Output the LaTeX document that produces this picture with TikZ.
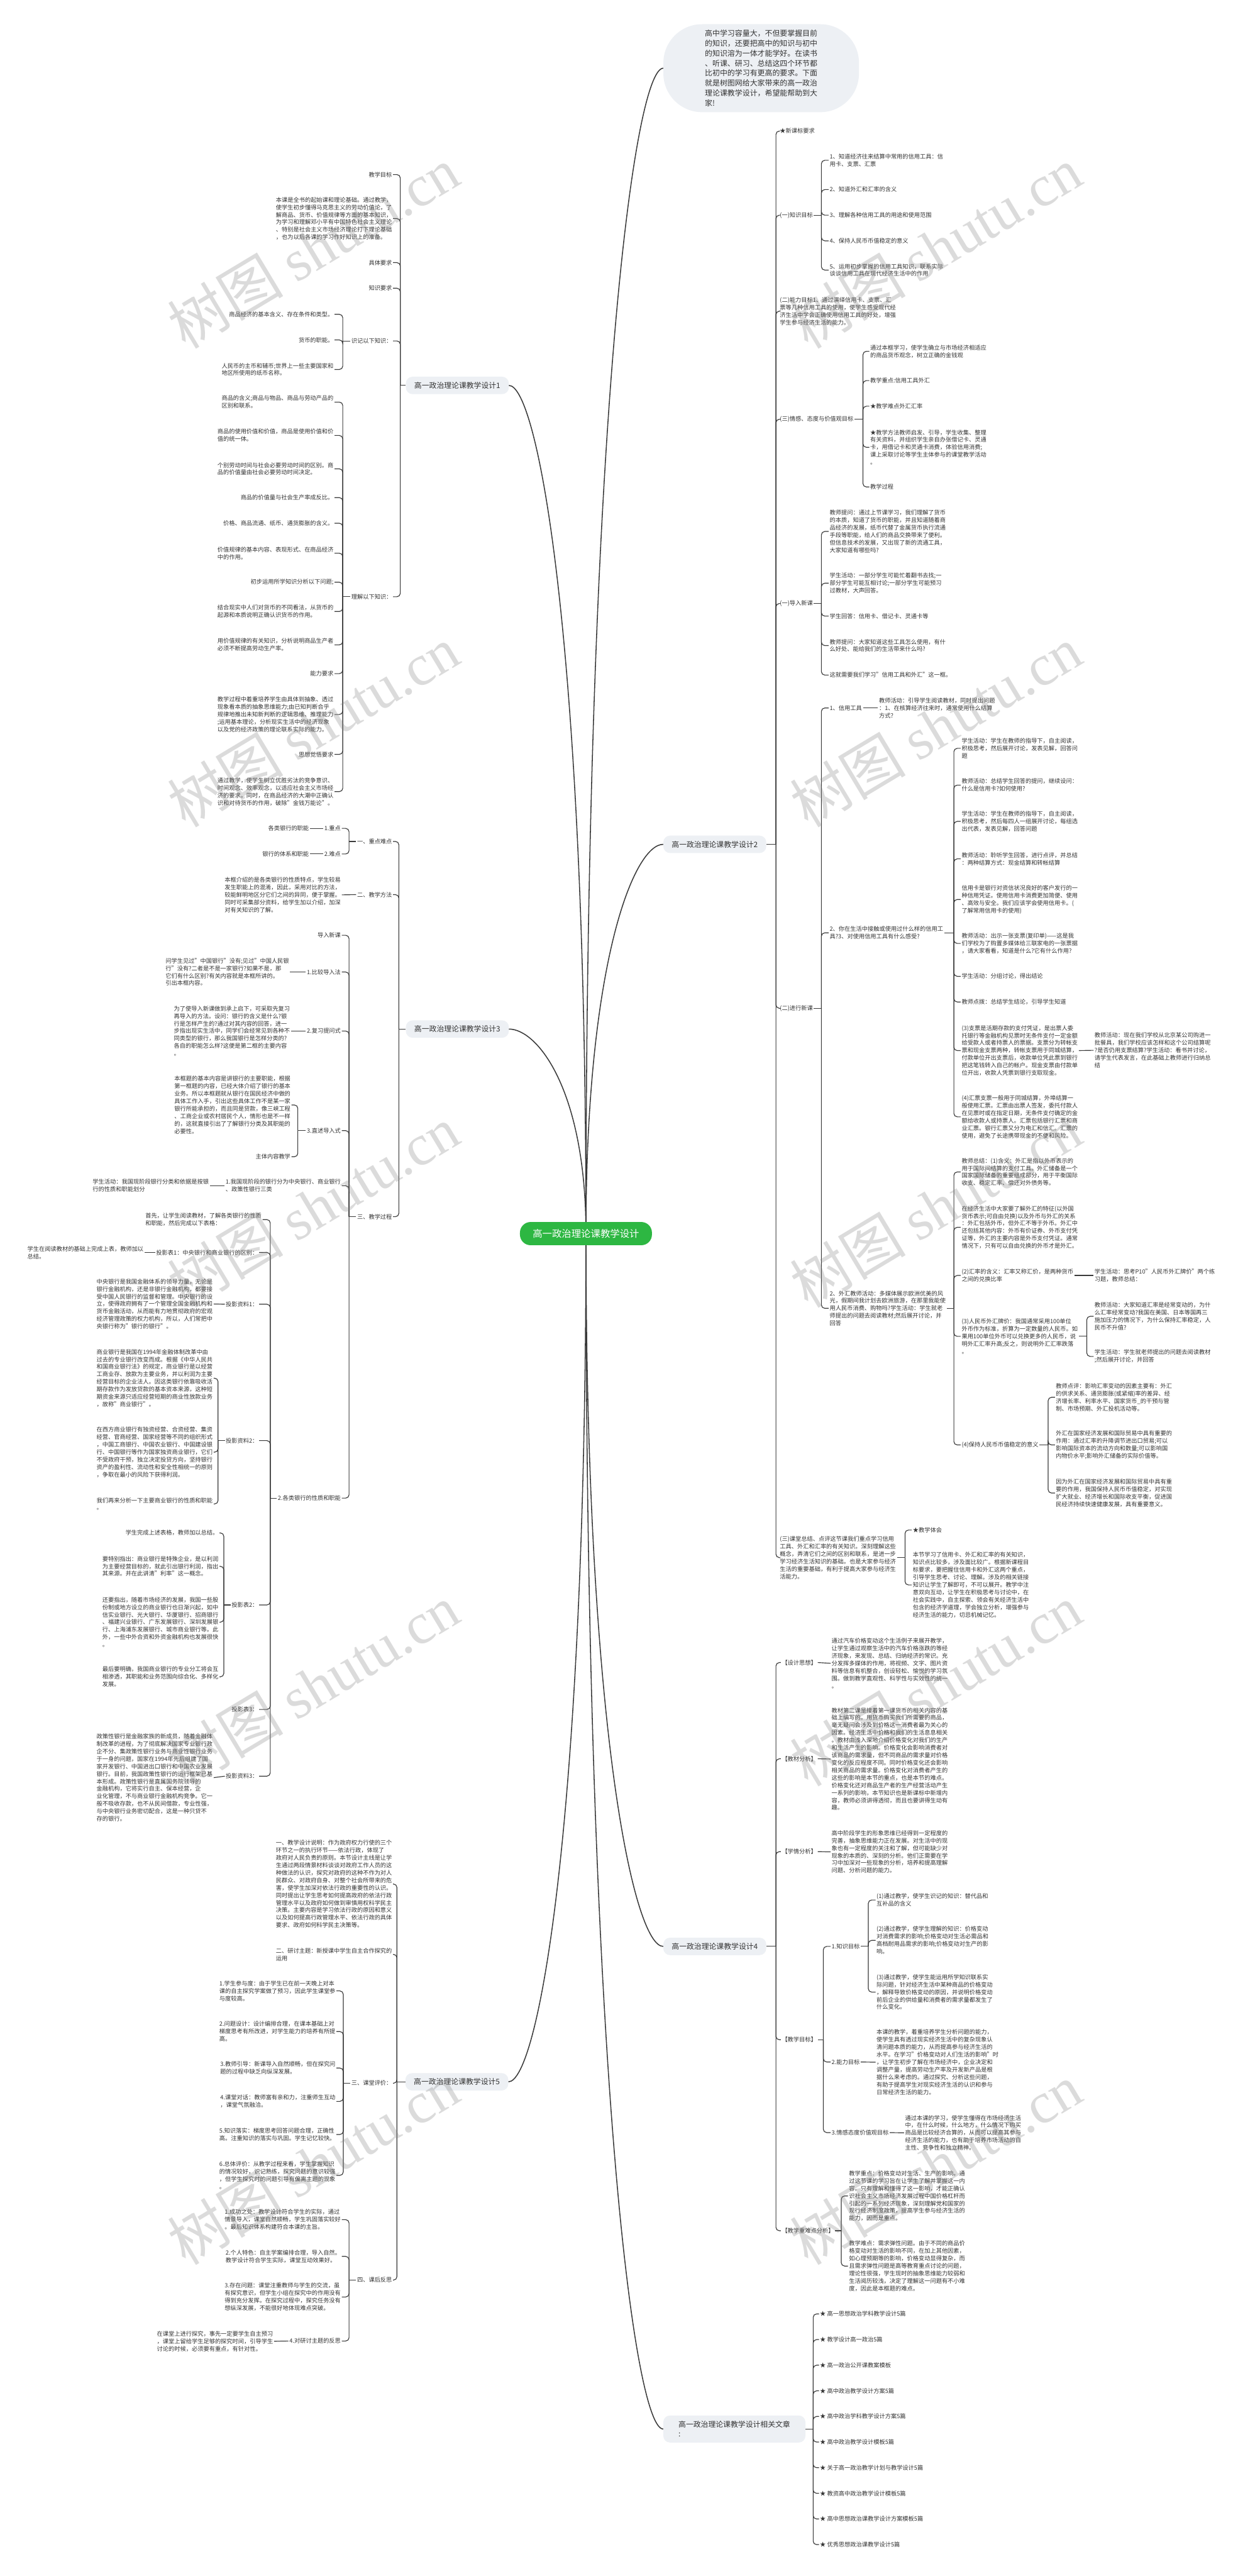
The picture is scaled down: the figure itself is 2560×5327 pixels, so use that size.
\documentclass[tikz,border=0pt]{standalone}
\usepackage{fontspec}
\setmainfont{Noto Sans CJK SC}
\newfontfamily\wmlatin{Liberation Serif}
\definecolor{linec}{HTML}{3A3A3A}
\definecolor{txt}{HTML}{333333}
\definecolor{boxc}{HTML}{EDF0F4}
\definecolor{rootc}{HTML}{2DB742}
\newcommand{\leaffont}{\fontsize{12}{15.5}\selectfont}
\newcommand{\brfont}{\fontsize{15.4}{19}\selectfont}
\newcommand{\introfont}{\fontsize{15.5}{20.5}\selectfont}
\newcommand{\rootfont}{\fontsize{20}{24}\selectfont}
\newcommand{\wmfont}{\fontsize{120}{130}\selectfont}
\begin{document}
\begin{tikzpicture}[x=1pt,y=-1pt,
  conn/.style={draw=linec, line width=1.5pt, rounded corners=7pt},
  bconn/.style={draw=linec, line width=2pt},
  leaf/.style={font=\leaffont, text=txt, inner sep=2pt, align=left},
  leafR/.style={leaf, anchor=west},
  leafL/.style={leaf, anchor=east},
  brbox/.style={fill=boxc, rounded corners=14pt, font=\brfont, text=txt, minimum height=36pt, minimum width=213pt, inner xsep=8pt},
  rootbox/.style={fill=rootc, text=white, rounded corners=22pt, minimum width=273pt, minimum height=48pt, font=\rootfont},
  introbox/.style={fill=boxc, rounded corners=80pt, inner xsep=86pt, inner ysep=12pt, align=left, font=\introfont, text=txt},
  wm/.style={rotate=31, text=gray, text opacity=0.28, font=\wmfont}
]
\useasboundingbox (0,0) rectangle (2560,5327);
\fill[white] (0,0) rectangle (2560,5327);

% ---------------- branch boxes ----------------
\node[introbox, anchor=west] (intro) at (1372,141) {高中学习容量大，不但要掌握目前\\的知识，还要把高中的知识与初中\\的知识溶为一体才能学好。在读书\\、听课、研习、总结这四个环节都\\比初中的学习有更高的要求。下面\\就是树图网给大家带来的高一政治\\理论课教学设计，希望能帮助到大\\家!};
\node[brbox] (b1) at (946,797) {高一政治理论课教学设计1};
\node[brbox] (b2) at (1478.5,1746) {高一政治理论课教学设计2};
\node[brbox] (b3) at (946,2128) {高一政治理论课教学设计3};
\node[brbox] (b4) at (1478.5,4025) {高一政治理论课教学设计4};
\node[brbox] (b5) at (945,4305) {高一政治理论课教学设计5};
\node[brbox, minimum width=294pt, minimum height=56pt, align=left, inner xsep=28pt] (b6) at (1519,5023) {高一政治理论课教学设计相关文章\\:};

% ---------------- root connectors ----------------
\coordinate (rc) at (1212,2551);
\draw[bconn] (rc) .. controls (1212,864) and (1312,141) .. (intro.west);
\draw[bconn] (rc) .. controls (1212,1323) and (1112,797) .. (b1.east);
\draw[bconn] (rc) .. controls (1212,1987) and (1312,1746) .. (b2.west);
\draw[bconn] (rc) .. controls (1212,2255) and (1112,2128) .. (b3.east);
\draw[bconn] (rc) .. controls (1212,3583) and (1312,4025) .. (b4.west);
\draw[bconn] (rc) .. controls (1212,3779) and (1112,4305) .. (b5.east);
\draw[bconn] (rc) .. controls (1212,4281) and (1312,5023) .. (b6.west);
\node[rootbox] (root) at (rc) {高一政治理论课教学设计};

% ================= BRANCH 1 =================
\coordinate (J1) at (828,797);
\draw[conn] (b1.west) -- (J1);
\node[leafL] (c1a) at (813,361) {教学目标};
\node[leafL] (c1b) at (813,452) {本课是全书的起始课和理论基础。通过教学，\\使学生初步懂得马克思主义的劳动价值论，了\\解商品、货币、价值规律等方面的基本知识，\\为学习和理解邓小平有中国特色社会主义理论\\、特别是社会主义市场经济理论打下理论基础\\，也为以后各课的学习作好知识上的准备。};
\node[leafL] (c1c) at (813,543) {具体要求};
\node[leafL] (c1d) at (813,596) {知识要求};
\node[leafL] (c1e) at (813,705) {识记以下知识：};
\node[leafL] (c1f) at (813,1234) {理解以下知识：};
\foreach \n in {c1a,c1b,c1c,c1d,c1e,c1f} \draw[conn] (J1) |- (\n.east);
\coordinate (J1e) at (709,705);
\draw[conn] (c1e.west) -- (J1e);
\node[leafL] (c1e1) at (692,650) {商品经济的基本含义、存在条件和类型。};
\node[leafL] (c1e2) at (692,703) {货币的职能。};
\node[leafL] (c1e3) at (692,764) {人民币的主币和辅币;世界上一些主要国家和\\地区所使用的纸币名称。};
\foreach \n in {c1e1,c1e2,c1e3} \draw[conn] (J1e) |- (\n.east);
\coordinate (J1f) at (709,1234);
\draw[conn] (c1f.west) -- (J1f);
\node[leafL] (f01) at (692,831.5) {商品的含义;商品与物品、商品与劳动产品的\\区别和联系。};
\node[leafL] (f02) at (692,900.5) {商品的使用价值和价值，商品是使用价值和价\\值的统一体。};
\node[leafL] (f03) at (692,969.5) {个别劳动时间与社会必要劳动时间的区别。商\\品的价值量由社会必要劳动时间决定。};
\node[leafL] (f04) at (692,1029) {商品的价值量与社会生产率成反比。};
\node[leafL] (f05) at (692,1082) {价格、商品流通、纸币、通货膨胀的含义。};
\node[leafL] (f06) at (692,1144) {价值规律的基本内容、表现形式、在商品经济\\中的作用。};
\node[leafL] (f07) at (692,1204) {初步运用所学知识分析以下问题;};
\node[leafL] (f08) at (692,1264.5) {结合现实中人们对货币的不同看法，从货币的\\起源和本质说明正确认识货币的作用。};
\node[leafL] (f09) at (692,1333.5) {用价值规律的有关知识，分析说明商品生产者\\必须不断提高劳动生产率。};
\node[leafL] (f10) at (692,1393) {能力要求};
\node[leafL] (f11) at (692,1477.5) {教学过程中着重培养学生由具体到抽象、透过\\现象看本质的抽象思维能力;由已知判断合乎\\规律地推出未知新判断的逻辑思维、推理能力\\;运用基本理论，分析现实生活中的经济现象\\以及党的经济政策的理论联系实际的能力。};
\node[leafL] (f12) at (692,1560) {思想觉悟要求};
\node[leafL] (f13) at (692,1637) {通过教学，使学生树立优胜劣汰的竞争意识、\\时间观念、效率观念，以适应社会主义市场经\\济的要求。同时，在商品经济的大潮中正确认\\识和对待货币的作用，破除"金钱万能论"。};
\foreach \n in {f01,f02,f03,f04,f05,f06,f07,f08,f09,f10,f11,f12,f13} \draw[conn] (J1f) |- (\n.east);

% ================= BRANCH 3 =================
\coordinate (J3) at (825,2128);
\draw[conn] (b3.west) -- (J3);
\node[leafL] (c3a) at (813,1740) {一、重点难点};
\node[leafL] (c3b) at (813,1850) {二、教学方法};
\node[leafL] (c3c) at (813,2516) {三、教学过程};
\foreach \n in {c3a,c3b,c3c} \draw[conn] (J3) |- (\n.east);
\coordinate (J3a) at (722,1740);
\draw[conn] (c3a.west) -- (J3a);
\node[leafL] (c3a1) at (707,1713) {1.重点};
\node[leafL] (c3a2) at (707,1766) {2.难点};
\foreach \n in {c3a1,c3a2} \draw[conn] (J3a) |- (\n.east);
\node[leafL] (c3a1c) at (641,1713) {各类银行的职能};
\node[leafL] (c3a2c) at (641,1766) {银行的体系和职能};
\draw[conn] (c3a1.west) -- (c3a1c.east);
\draw[conn] (c3a2.west) -- (c3a2c.east);
\node[leafL] (c3bc) at (707,1850.5) {本框介绍的是各类银行的性质特点，学生较易\\发生职能上的混淆，因此，采用对比的方法，\\较能鲜明地区分它们之间的异同，便于掌握。\\同时可采集部分资料，给学生加以介绍，加深\\对有关知识的了解。};
\draw[conn] (c3b.west) -- (c3bc.east);
\coordinate (J3c) at (722,2516);
\draw[conn] (c3c.west) -- (J3c);
\node[leafL] (s1) at (707,1934) {导入新课};
\node[leafL] (s2) at (707,2010) {1.比较导入法};
\node[leafL] (s3) at (707,2132) {2.复习提问式};
\node[leafL] (s4) at (707,2338) {3.直述导入式};
\node[leafL] (s5) at (707,2452) {1.我国现阶段的银行分为中央银行、商业银行\\、政策性银行三类};
\node[leafL] (s6) at (707,3098) {2.各类银行的性质和职能};
\foreach \n in {s1,s2,s3,s4,s5,s6} \draw[conn] (J3c) |- (\n.east);
\node[leafL] (s2c) at (600,2010) {问学生见过"中国银行"没有;见过"中国人民银\\行"没有?二者是不是一家银行?如果不是，那\\它们有什么区别?有关内容就是本框所讲的。\\引出本框内容。};
\draw[conn] (s2.west) -- (s2c.east);
\node[leafL] (s3c) at (602,2132) {为了使导入新课做到承上启下，可采取先复习\\再导入的方法。设问：银行的含义是什么?银\\行是怎样产生的?通过对其内容的回答，进一\\步指出现实生活中，同学们会经常见到各种不\\同类型的银行，那么我国银行是怎样分类的?\\各自的职能怎么样?这便是第二框的主要内容\\。};
\draw[conn] (s3.west) -- (s3c.east);
\coordinate (J3s4) at (616,2338);
\draw[conn] (s4.west) -- (J3s4);
\node[leafL] (s4a) at (603,2285) {本框题的基本内容是讲银行的主要职能，根据\\第一框题的内容，已经大体介绍了银行的基本\\业务。所以本框题就从银行在国民经济中做的\\具体工作入手，引出这些具体工作不是某一家\\银行所能承担的，而且同是贷款，像三峡工程\\、工商企业或农村居民个人，情形也是不一样\\的，这就直接引出了了解银行分类及其职能的\\必要性。};
\node[leafL] (s4b) at (603,2392) {主体内容教学};
\foreach \n in {s4a,s4b} \draw[conn] (J3s4) |- (\n.east);
\node[leafL] (s5c) at (434,2452) {学生活动：我国现阶段银行分类和依据是按银\\行的性质和职能划分};
\draw[conn] (s5.west) -- (s5c.east);
\coordinate (J3s6) at (559,3098);
\draw[conn] (s6.west) -- (J3s6);
\node[leafL] (u1) at (543,2522) {首先，让学生阅读教材，了解各类银行的性质\\和职能，然后完成以下表格：};
\node[leafL] (u2) at (536,2590) {投影表1：中央银行和商业银行的区别：};
\node[leafL] (u3) at (536,2697) {投影资料1：};
\node[leafL] (u4) at (536,2979) {投影资料2：};
\node[leafL] (u5) at (536,3319) {投影表2：};
\node[leafL] (u6) at (536,3535) {投影表3：};
\node[leafL] (u7) at (536,3673) {投影资料3：};
\foreach \n in {u1,u2,u3,u4,u5,u6,u7} \draw[conn] (J3s6) |- (\n.east);
\node[leafL] (u2c) at (299,2590) {学生在阅读教材的基础上完成上表，教师加以\\总结。};
\draw[conn] (u2.west) -- (u2c.east);
\node[leafL] (u3c) at (442,2696.5) {中央银行是我国金融体系的领导力量，无论是\\银行金融机构，还是非银行金融机构，都要接\\受中国人民银行的监督和管理。中央银行的设\\立，使得政府拥有了一个管理全国金融机构和\\货币金融活动，从而能有力地贯彻政府的宏观\\经济管理政策的权力机构，所以，人们常把中\\央银行称为"银行的银行"。};
\draw[conn] (u3.west) -- (u3c.east);
\coordinate (J3u4) at (451,2979);
\draw[conn] (u4.west) -- (J3u4);
\node[leafL] (u4a) at (442,2850) {商业银行是我国在1994年金融体制改革中由\\过去的专业银行改变而成。根据《中华人民共\\和国商业银行法》的规定，商业银行是以经营\\工商业存、放款为主要业务，并以利润为主要\\经营目标的企业法人。因这类银行依靠吸收活\\期存款作为发放贷款的基本资本来源，这种短\\期资金来源只适应经营短期的商业性放款业务\\，故称"商业银行"。};
\node[leafL] (u4b) at (442,3003) {在西方商业银行有独资经营、合资经营、集资\\经营、官商经营、国家经营等不同的组织形式\\，中国工商银行、中国农业银行、中国建设银\\行、中国银行等作为国家独资商业银行，它们\\不受政府干预，独立决定投贷方向，坚持银行\\资产的盈利性、流动性和安全性相统一的原则\\，争取在最小的风险下获得利润。};
\node[leafL] (u4c) at (442,3110) {我们再来分析一下主要商业银行的性质和职能\\。};
\foreach \n in {u4a,u4b,u4c} \draw[conn] (J3u4) |- (\n.east);
\coordinate (J3u5) at (463,3319);
\draw[conn] (u5.west) -- (J3u5);
\node[leafL] (u5a) at (454,3170) {学生完成上述表格，教师加以总结。};
\node[leafL] (u5b) at (454,3239) {要特别指出：商业银行是特殊企业，是以利润\\为主要经营目标的，就此引出银行利润，指出\\其来源。并在此讲清"利率"这一概念。};
\node[leafL] (u5c) at (454,3354.5) {还要指出，随着市场经济的发展，我国一些股\\份制或地方设立的商业银行也日渐兴起，如中\\信实业银行、光大银行、华厦银行、招商银行\\、福建兴业银行、广东发展银行、深圳发展银\\行、上海浦东发展银行、城市商业银行等。此\\外，一些中外合资和外资金融机构也发展很快\\。};
\node[leafL] (u5d) at (454,3467.5) {最后要明确，我国商业银行的专业分工将会互\\相渗透，其职能和业务范围向综合化、多样化\\发展。};
\foreach \n in {u5a,u5b,u5c,u5d} \draw[conn] (J3u5) |- (\n.east);
\node[leafL] (u7c) at (442,3676) {政策性银行是金融家族的新成员，随着金融体\\制改革的进程，为了彻底解决国家专业银行政\\企不分、集政策性银行业务与商业性银行业务\\于一身的问题，国家在1994年先后组建了国\\家开发银行、中国进出口银行和中国农业发展\\银行。目前，我国政策性银行的运行框架已基\\本形成。政策性银行是直属国务院领导的\\金融机构，它将实行自主、保本经营，企\\业化管理，不与商业银行金融机构竞争。它一\\般不吸收存款，也不从民间借款，专业性强，\\与中央银行业务密切配合，这是一种只贷不\\存的银行。};
\draw[conn] (u7.west) -- (u7c.east);

% ================= BRANCH 5 =================
\coordinate (J5) at (821,4305);
\draw[conn] (b5.west) -- (J5);
\node[leafL] (v1) at (813,3896) {一、教学设计说明：作为政府权力行使的三个\\环节之一的执行环节——依法行政，体现了\\政府对人民负责的原则。本节设计主线是让学\\生通过两段情景材料谈谈对政府工作人员的这\\种做法的认识，探究对政府的这种不作为对人\\民群众、对政府自身、对整个社会所带来的危\\害，使学生加深对依法行政的重要性的认识。\\同时提出让学生思考如何提高政府的依法行政\\管理水平以及政府如何做到审慎用权科学民主\\决策。主要内容是学习依法行政的原因和意义\\以及如何提高行政管理水平、依法行政的具体\\要求、政府如何科学民主决策等。};
\node[leafL] (v2) at (813,4041.5) {二、研讨主题：新授课中学生自主合作探究的\\运用};
\node[leafL] (v3) at (813,4308) {三、课堂评价：};
\node[leafL] (v4) at (813,4715) {四、课后反思};
\foreach \n in {v1,v2,v3,v4} \draw[conn] (J5) |- (\n.east);
\coordinate (J5c) at (710,4308);
\draw[conn] (v3.west) -- (J5c);
\node[leafL] (v3a) at (696,4117) {1.学生参与度：由于学生已在前一天晚上对本\\课的自主探究学案做了预习，因此学生课堂参\\与度较高。};
\node[leafL] (v3b) at (696,4201) {2.问题设计：设计编排合理，在课本基础上对\\梯度思考有所改进，对学生能力的培养有所提\\高。};
\node[leafL] (v3c) at (696,4276.5) {3.教师引导：新课导入自然顺畅，但在探究问\\题的过程中缺乏向纵深发展。};
\node[leafL] (v3d) at (696,4345.5) {4.课堂对话：教师富有亲和力，注重师生互动\\，课堂气氛融洽。};
\node[leafL] (v3e) at (696,4414) {5.知识落实：梯度思考回答问题合理，正确性\\高。注重知识的落实与巩固。学生记忆较快。};
\node[leafL] (v3f) at (696,4498.5) {6.总体评价：从教学过程来看，学生掌握知识\\的情况较好，识记熟练，探究问题的意识较强\\，但学生探究时的问题引导有偏离主题的现象\\。};
\foreach \n in {v3a,v3b,v3c,v3d,v3e,v3f} \draw[conn] (J5c) |- (\n.east);
\coordinate (J5d) at (722,4715);
\draw[conn] (v4.west) -- (J5d);
\node[leafL] (v4a) at (707,4590) {1.成功之处：教学设计符合学生的实际，通过\\情景导入，课堂自然顺畅，学生巩固落实较好\\。最后知识体系构建符合本课的主旨。};
\node[leafL] (v4b) at (707,4666) {2.个人特色：自主学案编排合理，导入自然。\\教学设计符合学生实际，课堂互动效果好。};
\node[leafL] (v4c) at (707,4750) {3.存在问题：课堂注重教师与学生的交流，虽\\有探究意识，但学生小组在探究中的作用没有\\得到充分发挥。在探究过程中，探究任务没有\\想纵深发展，不能很好地体现难点突破。};
\node[leafL] (v4d) at (707,4841) {4.对研讨主题的反思};
\foreach \n in {v4a,v4b,v4c,v4d} \draw[conn] (J5d) |- (\n.east);
\node[leafL] (v4dc) at (567,4841.5) {在课堂上进行探究，事先一定要学生自主预习\\，课堂上留给学生足够的探究时间，引导学生\\讨论的时候，必须要有重点，有针对性。};
\draw[conn] (v4d.west) -- (v4dc.east);

% ================= BRANCH 2 =================
\coordinate (J2) at (1605,1746);
\draw[conn] (b2.east) -- (J2);
\node[leafR] (r1) at (1611,271) {★新课标要求};
\node[leafR] (r2) at (1611,445) {(一)知识目标};
\node[leafR] (r3) at (1611,643.5) {(二)能力目标1、通过演绎信用卡、支票、汇\\票等几种信用工具的使用，使学生感受现代经\\济生活中学会正确使用信用工具的好处，增强\\学生参与经济生活的能力。};
\node[leafR] (r4) at (1611,867) {(三)情感、态度与价值观目标};
\node[leafR] (r5) at (1611,1248) {(一)导入新课};
\node[leafR] (r6) at (1611,2085) {(二)进行新课};
\node[leafR] (r7) at (1611,3221) {(三)课堂总结、点评这节课我们重点学习信用\\工具、外汇和汇率的有关知识。深刻理解这些\\概念，弄清它们之间的区别和联系，是进一步\\学习经济生活知识的基础。也是大家参与经济\\生活的重要基础，有利于提高大家参与经济生\\活能力。};
\foreach \n in {r1,r2,r3,r4,r5,r6,r7} \draw[conn] (J2) |- (\n.west);
\coordinate (J2b) at (1699,445);
\draw[conn] (r2.east) -- (J2b);
\node[leafR] (k1) at (1714,331.5) {1、知道经济往来结算中常用的信用工具：信\\用卡、支票、汇票};
\node[leafR] (k2) at (1714,392) {2、知道外汇和汇率的含义};
\node[leafR] (k3) at (1714,445) {3、理解各种信用工具的用途和使用范围};
\node[leafR] (k4) at (1714,498) {4、保持人民币币值稳定的意义};
\node[leafR] (k5) at (1714,558.5) {5、运用初步掌握的信用工具知识，联系实际\\谈谈信用工具在现代经济生活中的作用};
\foreach \n in {k1,k2,k3,k4,k5} \draw[conn] (J2b) |- (\n.west);
\coordinate (J2d) at (1785,867);
\draw[conn] (r4.east) -- (J2d);
\node[leafR] (q1) at (1798,726.5) {通过本框学习，使学生确立与市场经济相适应\\的商品货币观念，树立正确的金钱观};
\node[leafR] (q2) at (1798,787) {教学重点:信用工具外汇};
\node[leafR] (q3) at (1798,840) {★教学难点外汇汇率};
\node[leafR] (q4) at (1798,925) {★教学方法教师启发、引导，学生收集、整理\\有关资料，并组织学生亲自办张借记卡、灵通\\卡，用借记卡和灵通卡消费，体验信用消费;\\课上采取讨论等学生主体参与的课堂教学活动\\。};
\node[leafR] (q5) at (1798,1007) {教学过程};
\foreach \n in {q1,q2,q3,q4,q5} \draw[conn] (J2d) |- (\n.west);
\coordinate (J2e) at (1699,1248);
\draw[conn] (r5.east) -- (J2e);
\node[leafR] (d1) at (1714,1099) {教师提问：通过上节课学习，我们理解了货币\\的本质，知道了货币的职能，并且知道随着商\\品经济的发展，纸币代替了金属货币执行流通\\手段等职能，给人们的商品交换带来了便利。\\但信息技术的发展，又出现了新的流通工具，\\大家知道有哪些吗?};
\node[leafR] (d2) at (1714,1206) {学生活动：一部分学生可能忙着翻书去找;一\\部分学生可能互相讨论;一部分学生可能预习\\过教材，大声回答。};
\node[leafR] (d3) at (1714,1274) {学生回答：信用卡、借记卡、灵通卡等};
\node[leafR] (d4) at (1714,1335) {教师提问：大家知道这些工具怎么使用，有什\\么好处、能给我们的生活带来什么吗?};
\node[leafR] (d5) at (1714,1396) {这就需要我们学习"信用工具和外汇"这一框。};
\foreach \n in {d1,d2,d3,d4,d5} \draw[conn] (J2e) |- (\n.west);
\coordinate (J2f) at (1699,2085);
\draw[conn] (r6.east) -- (J2f);
\node[leafR] (e1) at (1714,1464) {1、信用工具};
\node[leafR] (e2) at (1714,1929) {2、你在生活中接触或使用过什么样的信用工\\具?3、对使用信用工具有什么感受?};
\node[leafR] (e3) at (1714,2705.5) {2、外汇教师活动：多媒体展示欧洲优美的风\\光，假期间我计划去欧洲旅游，在那里我能使\\用人民币消费、购物吗?学生活动：学生就老\\师提出的问题去阅读教材;然后展开讨论，并\\回答};
\foreach \n in {e1,e2,e3} \draw[conn] (J2f) |- (\n.west);
\node[leafR] (e1c) at (1816,1464) {教师活动：引导学生阅读教材，同时提出问题\\：1、在核算经济往来时，通常使用什么结算\\方式?};
\draw[conn] (e1.east) -- (e1c.west);
\coordinate (J2e2) at (1973,1929);
\draw[conn] (e2.east) -- (J2e2);
\node[leafR] (g01) at (1987,1547.5) {学生活动：学生在教师的指导下，自主阅读，\\积极思考，然后展开讨论，发表见解，回答问\\题};
\node[leafR] (g02) at (1987,1623.5) {教师活动：总结学生回答的提问，继续设问：\\什么是信用卡?如何使用?};
\node[leafR] (g03) at (1987,1698.5) {学生活动：学生在教师的指导下，自主阅读，\\积极思考，然后每四人一组展开讨论，每组选\\出代表，发表见解，回答问题};
\node[leafR] (g04) at (1987,1776) {教师活动：聆听学生回答，进行点评，并总结\\：两种结算方式：现金结算和转帐结算};
\node[leafR] (g05) at (1987,1860) {信用卡是银行对资信状况良好的客户发行的一\\种信用凭证。使用信用卡消费更加简便、使用\\、高效与安全。我们应该学会使用信用卡。(\\了解常用信用卡的使用)};
\node[leafR] (g06) at (1987,1951) {教师活动：出示一张支票(复印单)——这是我\\们学校为了购置多媒体给三联家电的一张票据\\，请大家看看，知道是什么?它有什么作用?};
\node[leafR] (g07) at (1987,2019) {学生活动：分组讨论，得出结论};
\node[leafR] (g08) at (1987,2072) {教师点拨：总结学生结论，引导学生知道};
\node[leafR] (g09) at (1987,2172.5) {(3)支票是活期存款的支付凭证，是出票人委\\托银行等金融机构见票时无条件支付一定金额\\给受款人或者持票人的票据。支票分为转帐支\\票和现金支票两种，转帐支票用于同城结算，\\付款单位开出支票后，收款单位凭此票到银行\\把这笔钱转入自己的帐户。现金支票由付款单\\位开出，收款人凭票到银行支取现金。};
\node[leafR] (g10) at (1987,2309.5) {(4)汇票支票一般用于同城结算，外埠结算一\\般使用汇票。汇票由出票人签发，委托付款人\\在见票时或在指定日期，无条件支付确定的金\\额给收款人或持票人。汇票包括银行汇票和商\\业汇票。银行汇票又分为电汇和信汇。汇票的\\使用，避免了长途携带现金的不便和风险。};
\foreach \n in {g01,g02,g03,g04,g05,g06,g07,g08,g09,g10} \draw[conn] (J2e2) |- (\n.west);
\node[leafR] (g09c) at (2262,2172) {教师活动：现在我们学校从北京某公司购进一\\批餐具，我们学校应该怎样和这个公司结算呢\\?是否仍用支票结算?学生活动：看书并讨论，\\请学生代表发言，在此基础上教师进行归纳总\\结};
\draw[conn] (g09.east) -- (g09c.west);
\coordinate (J2e3) at (1973,2705.5);
\draw[conn] (e3.east) -- (J2e3);
\node[leafR] (h01) at (1987,2423.5) {教师总结：(1)含义：外汇是指以外币表示的\\用于国际间结算的支付工具。外汇储备是一个\\国家国际储备的重要组成部分，用于平衡国际\\收支、稳定汇率、偿还对外债务等。};
\node[leafR] (h02) at (1987,2538) {在经济生活中大家要了解外汇的特征(以外国\\货币表示;可自由兑换)以及外币与外汇的关系\\：外汇包括外币，但外汇不等于外币。外汇中\\还包括其他内容：外币有价证券、外币支付凭\\证等，外汇的主要内容是外币支付凭证。通常\\情况下，只有可以自由兑换的外币才是外汇。};
\node[leafR] (h03) at (1987,2637.5) {(2)汇率的含义：汇率又称汇价，是两种货币\\之间的兑换比率};
\node[leafR] (h04) at (1987,2763.5) {(3)人民币外汇牌价：我国通常采用100单位\\外币作为标准，折算为一定数量的人民币。如\\果用100单位外币可以兑换更多的人民币，说\\明外汇汇率升高;反之，则说明外汇汇率跌落\\。};
\node[leafR] (h05) at (1987,2988) {(4)保持人民币币值稳定的意义};
\foreach \n in {h01,h02,h03,h04,h05} \draw[conn] (J2e3) |- (\n.west);
\node[leafR] (h03c) at (2262,2637.5) {学生活动：思考P10"人民币外汇牌价"两个练\\习题，教师总结：};
\draw[conn] (h03.east) -- (h03c.west);
\coordinate (J2h4) at (2248,2763.5);
\draw[conn] (h04.east) -- (J2h4);
\node[leafR] (h04a) at (2262,2722) {教师活动：大家知道汇率是经常变动的，为什\\么汇率经常变动?我国在美国、日本等国再三\\施加压力的情况下，为什么保持汇率稳定，人\\民币不升值?};
\node[leafR] (h04b) at (2262,2805) {学生活动：学生就老师提出的问题去阅读教材\\;然后展开讨论，并回答};
\foreach \n in {h04a,h04b} \draw[conn] (J2h4) |- (\n.west);
\coordinate (J2h5) at (2168,2988);
\draw[conn] (h05.east) -- (J2h5);
\node[leafR] (h05a) at (2182,2889.5) {教师点评：影响汇率变动的因素主要有：外汇\\的供求关系、通货膨胀(或紧缩)率的差异、经\\济增长率、利率水平、国家货币\_的干预与管\\制、市场预期、外汇投机活动等。};
\node[leafR] (h05b) at (2182,2988) {外汇在国家经济发展和国际贸易中具有重要的\\作用：通过汇率的升降调节进出口贸易;可以\\影响国际资本的流动方向和数量;可以影响国\\内物价水平;影响外汇储备的实际价值等。};
\node[leafR] (h05c) at (2182,3087.5) {因为外汇在国家经济发展和国际贸易中具有重\\要的作用，我国保持人民币币值稳定，对实现\\扩大就业、经济增长和国际收支平衡，促进国\\民经济持续快速健康发展，具有重要意义。};
\foreach \n in {h05a,h05b,h05c} \draw[conn] (J2h5) |- (\n.west);
\coordinate (J2g) at (1872,3221);
\draw[conn] (r7.east) -- (J2g);
\node[leafR] (t1) at (1886,3164) {★教学体会};
\node[leafR] (t2) at (1886,3277.5) {本节学习了信用卡、外汇和汇率的有关知识，\\知识点比较多，涉及面比较广。根据新课程目\\标要求，要把握住信用卡和外汇这两个重点，\\引导学生思考、讨论、理解。涉及的相关链接\\知识让学生了解即可，不可以展开。教学中注\\意双向互动，让学生在积极思考与讨论中，在\\社会实践中，自主探索、领会有关经济生活中\\包含的经济学道理，学会独立分析，增强参与\\经济生活的能力，切忌机械记忆。};
\foreach \n in {t1,t2} \draw[conn] (J2g) |- (\n.west);

% ================= BRANCH 4 =================
\coordinate (J4) at (1605,4025);
\draw[conn] (b4.east) -- (J4);
\node[leafR] (w1) at (1615,3438) {【设计思想】};
\node[leafR] (w2) at (1615,3637) {【教材分析】};
\node[leafR] (w3) at (1615,3829) {【学情分析】};
\node[leafR] (w4) at (1615,4218) {【教学目标】};
\node[leafR] (w5) at (1615,4613) {【教学重难点分析】};
\foreach \n in {w1,w2,w3,w4,w5} \draw[conn] (J4) |- (\n.west);
\node[leafR] (w1c) at (1718,3439.5) {通过汽车价格变动这个生活例子来展开教学，\\让学生通过观察生活中的汽车价格涨跌的等经\\济现象，来发现、总结、归纳经济的常识。充\\分发挥多媒体的作用，将视频、文字、图片资\\料等信息有机整合，创设轻松、愉悦的学习氛\\围。做到教学直观性、科学性与实效性的统一\\。};
\draw[conn] (w1.east) -- (w1c.west);
\node[leafR] (w2c) at (1718,3637.5) {教材第二课是接着第一课货币的相关内容的基\\础上编写的。用货币购买我们所需要的商品，\\毫无疑问会涉及到价格这一消费者最为关心的\\因素。经济生活中价格和我们的生活息息相关\\。教材由浅入深地介绍价格变化对我们的生产\\和生活产生的影响。价格变化会影响消费者对\\该商品的需求量，但不同商品的需求量对价格\\变化的反应程度不同。同时价格变化还会影响\\相关商品的需求量。价格变化对消费者产生的\\这些的影响是本节的重点，也是本节的难点。\\价格变化还对商品生产者的生产经营活动产生\\一系列的影响，本节知识也是新课标中新增内\\容，教师必须讲得透彻，而且也要讲得生动有\\趣。};
\draw[conn] (w2.east) -- (w2c.west);
\node[leafR] (w3c) at (1718,3829.5) {高中阶段学生的形象思维已经得到一定程度的\\完善，抽象思维能力正在发展。对生活中的现\\象也有一定程度的关注和了解，但可能缺少对\\现象的本质的、深刻的分析。他们正需要在学\\习中加深对一些现象的分析，培养和提高理解\\问题、分析问题的能力。};
\draw[conn] (w3.east) -- (w3c.west);
\coordinate (J4d) at (1703,4218);
\draw[conn] (w4.east) -- (J4d);
\node[leafR] (m1) at (1718,4025) {1.知识目标};
\node[leafR] (m2) at (1718,4264) {2.能力目标};
\node[leafR] (m3) at (1718,4410) {3.情感态度价值观目标};
\foreach \n in {m1,m2,m3} \draw[conn] (J4d) |- (\n.west);
\coordinate (J4m) at (1796,4025);
\draw[conn] (m1.east) -- (J4m);
\node[leafR] (m1a) at (1811,3929) {(1)通过教学，使学生识记的知识：替代品和\\互补品的含义};
\node[leafR] (m1b) at (1811,4012.5) {(2)通过教学，使学生理解的知识：价格变动\\对消费需求的影响;价格变动对生活必需品和\\高档耐用品需求的影响;价格变动对生产的影\\响。};
\node[leafR] (m1c) at (1811,4119.5) {(3)通过教学，使学生能运用所学知识联系实\\际问题，针对经济生活中某种商品的价格变动\\，解释导致价格变动的原因，并说明价格变动\\前后企业的供给量和消费者的需求量都发生了\\什么变化。};
\foreach \n in {m1a,m1b,m1c} \draw[conn] (J4m) |- (\n.west);
\node[leafR] (m2c) at (1811,4264.5) {本课的教学，着重培养学生分析问题的能力，\\使学生具有透过现实经济生活中的复杂现象认\\清问题本质的能力，从而提高参与经济生活的\\水平。在学习"价格变动对人们生活的影响"时\\，让学生初步了解在市场经济中，企业决定和\\调整产量，提高劳动生产率及开发新产品是根\\据什么来考虑的。通过探究、分析这些问题，\\有助于提高学生对现实经济生活的认识和参与\\日常经济生活的能力。};
\draw[conn] (m2.east) -- (m2c.west);
\node[leafR] (m3c) at (1870,4410.5) {通过本课的学习，使学生懂得在市场经济生活\\中，在什么时候，什么地方，什么情况下购买\\商品是比较经济合算的，从而可以提高其参与\\经济生活的能力，也有助于培养市场活动的自\\主性、竞争性和独立精神。};
\draw[conn] (m3.east) -- (m3c.west);
\coordinate (J4e) at (1740,4613);
\draw[conn] (w5.east) -- (J4e);
\node[leafR] (n1) at (1754,4541) {教学重点：价格变动对生活、生产的影响。通\\过这节课的学习旨在让学生了解并掌握这一内\\容。只有理解和懂得了这一影响，才能正确认\\识社会主义市场经济发展过程中国价格杠杆而\\引起的一系列经济现象，深刻理解党和国家的\\现行经济制度政策，提高学生参与经济生活的\\能力，因而是重点。};
\node[leafR] (n2) at (1754,4686) {教学难点：需求弹性问题。由于不同的商品价\\格变动对生活的影响不同，在加上其他因素，\\如心理预期等的影响，价格变动显得复杂，而\\且需求弹性问题是高等教育重点讨论的问题，\\理论性很强，学生现时的抽象思维能力较弱和\\生活阅历较浅，决定了理解这一问题有不小难\\度，因此是本框题的难点。};
\foreach \n in {n1,n2} \draw[conn] (J4e) |- (\n.west);

% ================= BRANCH 6 =================
\coordinate (J6) at (1682,5023);
\draw[conn] (b6.east) -- (J6);
\node[leafR] (z1) at (1694,4785) {★ 高一思想政治学科教学设计5篇};
\node[leafR] (z2) at (1694,4838) {★ 教学设计高一政治5篇};
\node[leafR] (z3) at (1694,4891) {★ 高一政治公开课教案模板};
\node[leafR] (z4) at (1694,4944) {★ 高中政治教学设计方案5篇};
\node[leafR] (z5) at (1694,4997) {★ 高中政治学科教学设计方案5篇};
\node[leafR] (z6) at (1694,5050) {★ 高中政治教学设计模板5篇};
\node[leafR] (z7) at (1694,5103) {★ 关于高一政治教学计划与教学设计5篇};
\node[leafR] (z8) at (1694,5156) {★ 教资高中政治教学设计模板5篇};
\node[leafR] (z9) at (1694,5209) {★ 高中思想政治课教学设计方案模板5篇};
\node[leafR] (z10) at (1694,5262) {★ 优秀思想政治课教学设计5篇};
\foreach \n in {z1,z2,z3,z4,z5,z6,z7,z8,z9,z10} \draw[conn] (J6) |- (\n.west);

% ================= watermarks =================
\foreach \wx in {648,1935} {
  \foreach \wy in {512,1502,2495,3485,4475} {
    \node[wm] at (\wx,\wy) {树图 {\wmlatin shutu.cn}};
  }
}
\end{tikzpicture}
\end{document}
